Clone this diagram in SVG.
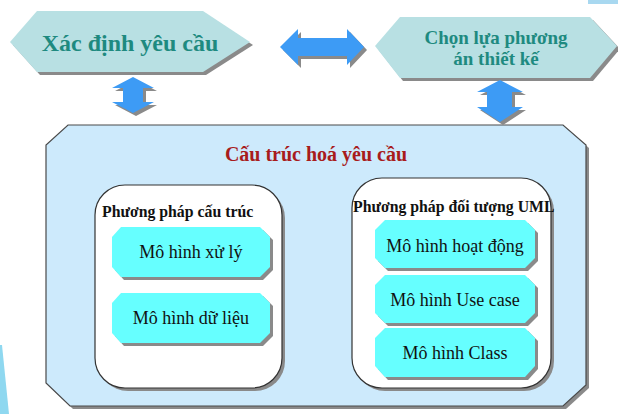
<svg xmlns="http://www.w3.org/2000/svg" width="618" height="414" viewBox="0 0 618 414">
<style>
.sh{fill:#8a8a8a}
.hex{fill:#b8e0e3}
.hext{font-family:"Liberation Serif",serif;font-weight:bold;fill:#1e8a80;text-anchor:middle}
.arr{fill:#3d9bf5}
.cont{fill:#cdeafc;stroke:#4a4a4a;stroke-width:1.2}
.grp{fill:#ffffff;stroke:#333;stroke-width:1.2}
.node{fill:#66ffff}
.nt{font-family:"Liberation Serif",serif;font-size:18px;fill:#111;text-anchor:middle}
.gt{font-family:"Liberation Serif",serif;font-size:15.8px;font-weight:bold;fill:#111}
</style>
<rect width="618" height="414" fill="#ffffff"/>
<polygon points="0,345 2,345 9,414 0,414" fill="#8fd8f0"/>
<rect x="588" y="0" width="30" height="4" fill="#a8d8f0"/>

<g id="xac-dinh">
<polygon class="sh" points="13,45 40,14 206,14 253,45 206,75 40,75"/>
<polygon class="hex" points="10,42 37,11 203,11 250,42 203,72 37,72"/>
<text class="hext" x="130" y="51" font-size="24">Xác định yêu cầu</text>
</g>

<g id="chon-lua">
<polygon class="sh" points="378,49 403,20 593,20 620,49 593,81 403,81"/>
<polygon class="hex" points="375,46 400,17 590,17 617,46 590,78 400,78"/>
<text class="hext" x="496" y="44" font-size="19">Chọn lựa phương</text>
<text class="hext" x="496" y="65" font-size="19">án thiết kế</text>
</g>

<g id="cau-truc">
<polygon class="sh" points="71,128 566,128 589,148 589,388 566,409 73,409 49,386 49,148"/>
<polygon class="cont" points="68,125 563,125 586,145 586,385 563,406 70,406 46,383 46,145"/>
<text x="316" y="161" font-family="Liberation Serif, serif" font-size="20" font-weight="bold" fill="#a81c1c" text-anchor="middle">Cấu trúc hoá yêu cầu</text>
</g>

<g id="pp-cau-truc">
<rect class="sh" x="98" y="188" width="187" height="203" rx="30"/>
<rect class="grp" x="95" y="185" width="187" height="203" rx="30"/>
<text class="gt" x="102" y="217">Phương pháp cấu trúc</text>
</g>

<g id="pp-doi-tuong">
<rect class="sh" x="355" y="181" width="199" height="210" rx="30"/>
<rect class="grp" x="352" y="178" width="199" height="210" rx="30"/>
<text class="gt" x="353" y="212">Phương pháp đối tượng UML</text>
</g>

<g id="mh-xu-ly">
<polygon class="sh" points="124,230 263,230 273,240 273,270 263,280 124,280 115,270 115,240"/>
<polygon class="node" points="121,227 260,227 270,237 270,267 260,277 121,277 112,267 112,237"/>
<text class="nt" x="191" y="258">Mô hình xử lý</text>
</g>

<g id="mh-du-lieu">
<polygon class="sh" points="124,296 263,296 273,306 273,336 263,346 124,346 115,336 115,306"/>
<polygon class="node" points="121,293 260,293 270,303 270,333 260,343 121,343 112,333 112,303"/>
<text class="nt" x="191" y="324">Mô hình dữ liệu</text>
</g>

<g id="mh-hoat-dong">
<polygon class="sh" points="388,223 528,223 538,233 538,261 528,271 388,271 378,261 378,233"/>
<polygon class="node" points="385,220 525,220 535,230 535,258 525,268 385,268 375,258 375,230"/>
<text class="nt" x="455" y="252">Mô hình hoạt động</text>
</g>

<g id="mh-use-case">
<polygon class="sh" points="388,278 528,278 538,288 538,316 528,326 388,326 378,316 378,288"/>
<polygon class="node" points="385,275 525,275 535,285 535,313 525,323 385,323 375,313 375,285"/>
<text class="nt" x="455" y="306">Mô hình Use case</text>
</g>

<g id="mh-class">
<polygon class="sh" points="388,331 528,331 538,341 538,369 528,380 388,380 378,369 378,341"/>
<polygon class="node" points="385,328 525,328 535,338 535,366 525,377 385,377 375,366 375,338"/>
<text class="nt" x="455" y="359">Mô hình Class</text>
</g>

<g id="connectors">
<polygon class="sh" points="283,50 301,32 301,41 350,41 350,32 367,50 350,68 350,59 301,59 301,68"/>
<polygon class="arr" points="280,47 298,29 298,38 347,38 347,29 364,47 347,65 347,56 298,56 298,65"/>
<polygon class="sh" points="136,80 157,91 146,91 146,105 157,105 136,116 115,105 126,105 126,91 115,91"/>
<polygon class="arr" points="133,77 154,88 143,88 143,102 154,102 133,113 112,102 123,102 123,88 112,88"/>
<polygon class="sh" points="503,83 526,95 515,95 515,110 526,110 503,125 480,110 490,110 490,95 480,95"/>
<polygon class="arr" points="500,80 523,92 512,92 512,107 523,107 500,122 477,107 487,107 487,92 477,92"/>
</g>
</svg>
